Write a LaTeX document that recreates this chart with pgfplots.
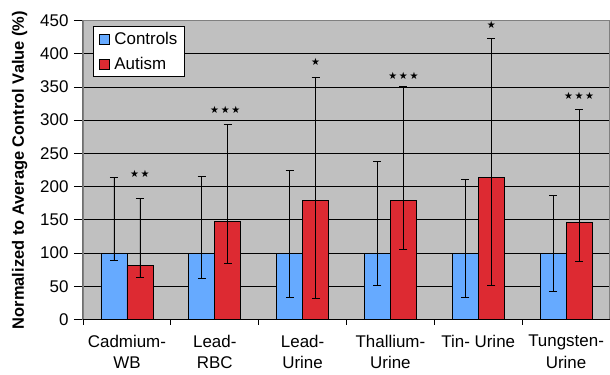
\documentclass[border=0pt]{standalone}
\usepackage{pgfplots}
\pgfplotsset{compat=1.18}
\usepackage{fontspec}
\setmainfont{Liberation Sans}
\newfontfamily\symfont{DejaVu Sans}
\definecolor{ctrlblue}{RGB}{102,170,255}
\definecolor{autred}{RGB}{221,42,50}
\definecolor{bggray}{RGB}{192,192,192}
\begin{document}
\begin{tikzpicture}
\begin{axis}[
  name=ax,
  ybar,
  scale only axis,
  width=527bp, height=299bp,
  xmin=-0.5, xmax=5.5,
  ymin=0, ymax=450,
  ytick distance=50,
  xtick={0,1,2,3,4,5},
  xticklabels={{Cadmium-\\WB},{Lead-\\RBC},{Lead-\\Urine},{Thallium-\\Urine},{Tin- Urine},{Tungsten-\\Urine}},
  minor xtick={-0.5,0.5,1.5,2.5,3.5,4.5,5.5},
  xtick pos=bottom, ytick pos=left,
  tick align=outside,
  major tick length=9bp,
  minor tick length=5bp,
  major x tick style={draw=none},
  minor x tick style={black, line width=0.8bp},
  major y tick style={black, line width=0.8bp},
  /pgf/number format/assume math mode=true,
  tick label style={font=\fontsize{17}{21.5}\selectfont},
  xticklabel style={align=center, yshift=-3bp},
  yticklabel style={xshift=-2bp},
  ylabel={\bfseries Normalized to Average Control Value (\%)},
  ylabel style={font=\fontsize{16.5}{19}\selectfont},
  every axis y label/.append style={at={(axis description cs:-0.12,0.5)}, anchor=center},
  ymajorgrids,
  grid style={black, line width=0.8bp},
  axis background/.style={fill=bggray},
  axis line style={draw=black!50, line width=1.3bp},
  bar width=0.296,
  error bars/error bar style={black, line width=0.8bp},
  error bars/error mark options={black, line width=0.8bp, mark size=4bp, rotate=90},
  legend style={at={(rel axis cs:0.0195,0.982)}, anchor=north west, draw=black, fill=white,
    line width=0.8bp, font=\fontsize{17}{20.5}\selectfont, row sep=7bp, inner xsep=5bp, inner ysep=4bp},
  legend cell align=left,
]
\addplot[bar shift=-0.148, fill=ctrlblue, draw=black, line width=0.8bp,
  legend image code/.code={\draw[fill=ctrlblue, draw=black, line width=0.6bp] (0bp,-5bp) rectangle (10bp,5bp); \path (13bp,0bp);},
  error bars/.cd, y dir=both, y explicit]
coordinates {
 (0,100) += (0,114) -= (0,11)
 (1,100) += (0,115.5) -= (0,38)
 (2,100) += (0,124.5) -= (0,67.4)
 (3,100) += (0,138) -= (0,48.4)
 (4,100) += (0,110.5) -= (0,66)
 (5,100) += (0,87) -= (0,57)
};
\addlegendentry{Controls}
\addplot[bar shift=0.148, fill=autred, draw=black, line width=0.8bp,
  legend image code/.code={\draw[fill=autred, draw=black, line width=0.6bp] (0bp,-5bp) rectangle (10bp,5bp); \path (13bp,0bp);},
  error bars/.cd, y dir=both, y explicit]
coordinates {
 (0,81) += (0,101) -= (0,17.4)
 (1,147) += (0,146) -= (0,62)
 (2,178.5) += (0,186.5) -= (0,146)
 (3,178.5) += (0,172.5) -= (0,73.7)
 (4,214) += (0,209.6) -= (0,162.4)
 (5,145.4) += (0,170.6) -= (0,58.4)
};
\addlegendentry{Autism}
\addplot[bar shift=0, draw=none, fill=none, forget plot, point meta=explicit symbolic,
  nodes near coords={\pgfplotspointmeta},
  nodes near coords style={anchor=center, font=\symfont\fontsize{10}{11}\selectfont, text=black}]
coordinates {
 (0.148,219.5) [★\,★]
 (1.12,315.8) [★\,★\,★]
 (2.148,387) [★]
 (3.148,367) [★\,★\,★]
 (4.148,442.6) [★]
 (5.148,335.8) [★\,★\,★]
};
\draw[black, line width=1bp] (rel axis cs:0,1) -- (rel axis cs:0,0) -- (rel axis cs:1,0);
\end{axis}
\pgfresetboundingbox
\path[use as bounding box] ([xshift=-83bp,yshift=-55.5bp]ax.south west) rectangle ([yshift=20.5bp]ax.north east);
\end{tikzpicture}
\end{document}
